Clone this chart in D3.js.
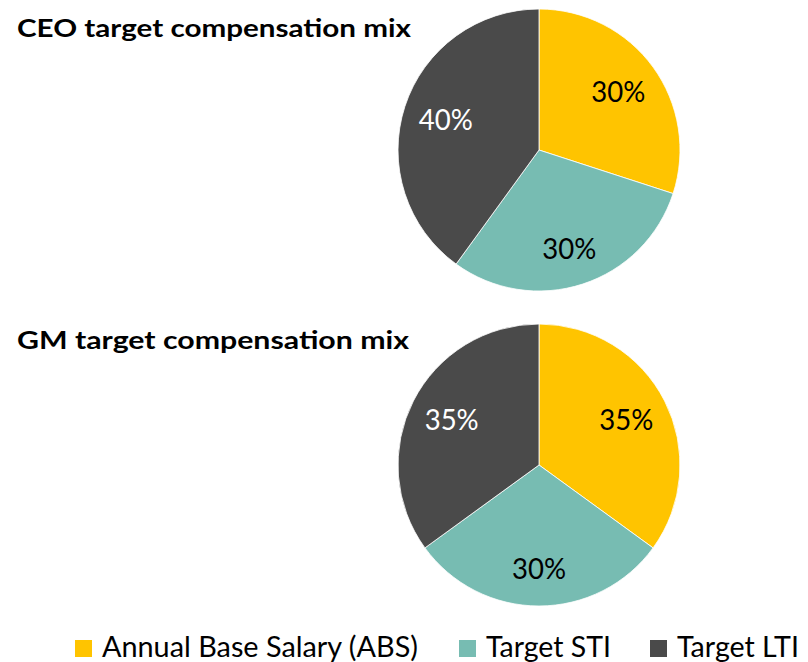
<!DOCTYPE html>
<html>
<head>
<meta charset="utf-8">
<script src="https://cdn.jsdelivr.net/npm/d3@7/dist/d3.min.js"></script>
<style>
  html, body { margin: 0; padding: 0; background: #fff; }
  svg { display: block; }
  text { font-family: Lato, "Open Sans", "Liberation Sans", sans-serif; }
</style>
</head>
<body>
<svg id="chart" width="808" height="662"></svg>
<script>
// Compensation components and their colours
const components = ["Annual Base Salary (ABS)", "Target STI", "Target LTI"];
const componentColors = ["#FFC400", "#77BCB2", "#4A4A4A"];
const labelColors = ["#000000", "#000000", "#FFFFFF"];

// Target pay mix (%) per role
const chartTitles = ["CEO target compensation mix", "GM target compensation mix"];
const ceoMix = [30, 30, 40];
const gmMix = [35, 30, 35];

const svg = d3.select("#chart");

const radius = 141;
const labelRadius = 98;
const pieCx = 539;
const pieCy = [150, 465];
const titleBaseline = [37, 349];
const titleWidths = [394, 392];

const color = d3.scaleOrdinal().domain(components).range(componentColors);
const txtColor = d3.scaleOrdinal().domain(components).range(labelColors);

const pie = d3.pie().sort(null).value(d => d.value);
const arc = d3.arc().innerRadius(0).outerRadius(radius);
const labelArc = d3.arc().innerRadius(labelRadius).outerRadius(labelRadius);

[ceoMix, gmMix].forEach((mix, i) => {
  const data = components.map((c, j) => ({ name: c, value: mix[j] }));

  svg.append("text")
    .attr("x", 17)
    .attr("y", titleBaseline[i])
    .attr("font-size", 25)
    .attr("font-weight", 700)
    .attr("fill", "#000")
    .attr("textLength", titleWidths[i])
    .attr("lengthAdjust", "spacingAndGlyphs")
    .text(chartTitles[i]);

  const g = svg.append("g").attr("transform", `translate(${pieCx},${pieCy[i]})`);
  const slices = pie(data);

  g.selectAll("path")
    .data(slices)
    .join("path")
    .attr("d", arc)
    .attr("fill", d => color(d.data.name))
    .attr("stroke", "#ffffff")
    .attr("stroke-width", 0.8);

  // value labels, nudged slightly downward in the lower half of the pie
  g.selectAll("text")
    .data(slices)
    .join("text")
    .attr("transform", d => {
      const [x, y] = labelArc.centroid(d);
      return `translate(${x},${y + Math.max(0, y) * 0.06})`;
    })
    .attr("text-anchor", "middle")
    .attr("dy", "0.35em")
    .attr("font-size", 28)
    .attr("fill", d => txtColor(d.data.name))
    .attr("textLength", 54)
    .attr("lengthAdjust", "spacingAndGlyphs")
    .text(d => d.data.value + "%");
});

// Legend along the bottom edge
const legendX = [75, 459, 650];
const legendTextWidths = [316, 125, 122];
const legend = svg.append("g");
components.forEach((c, j) => {
  legend.append("rect")
    .attr("x", legendX[j])
    .attr("y", 640)
    .attr("width", 17)
    .attr("height", 17)
    .attr("fill", color(c));
  legend.append("text")
    .attr("x", legendX[j] + 27)
    .attr("y", 657)
    .attr("font-size", 28)
    .attr("fill", "#000")
    .attr("textLength", legendTextWidths[j])
    .attr("lengthAdjust", "spacingAndGlyphs")
    .text(c);
});
</script>
</body>
</html>
